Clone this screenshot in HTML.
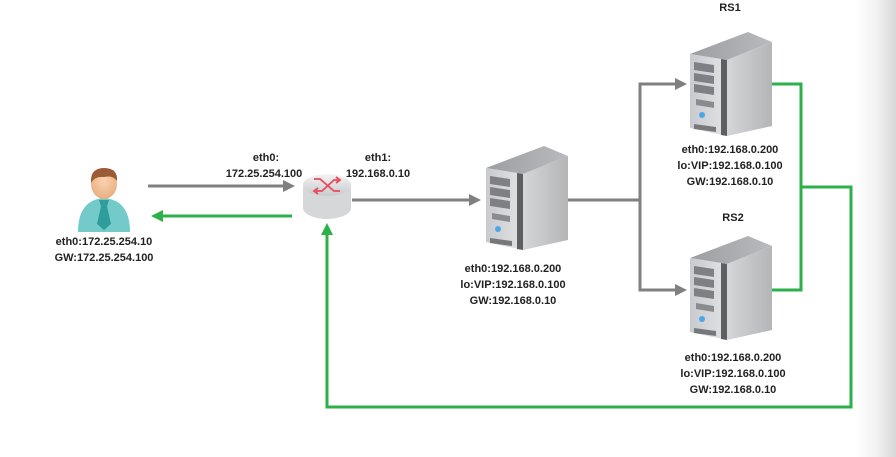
<!DOCTYPE html>
<html><head><meta charset="utf-8"><style>
html,body{margin:0;padding:0;background:#fff;}
body{width:896px;height:457px;overflow:hidden;position:relative;}
.grad{position:absolute;left:855px;top:0;width:41px;height:457px;background:linear-gradient(to right,#fff,#f3f3f3 50%,#d8d8d8);}
svg{position:absolute;left:0;top:0;}
text{font-family:"Liberation Sans",sans-serif;font-weight:bold;font-size:11px;fill:#222;text-anchor:middle;}
</style></head><body>
<div class="grad"></div>
<svg width="896" height="457" viewBox="0 0 896 457">
<defs>
<linearGradient id="side" x1="0" x2="1"><stop offset="0" stop-color="#d5d6d8"/><stop offset="1" stop-color="#b4b5b8"/></linearGradient>
<linearGradient id="front" x1="0" x2="1"><stop offset="0" stop-color="#c9cacd"/><stop offset="1" stop-color="#e2e3e5"/></linearGradient>
<linearGradient id="top" x1="0" x2="1"><stop offset="0" stop-color="#9d9ea2"/><stop offset="1" stop-color="#b9babd"/></linearGradient>
<linearGradient id="rt" x1="0" x2="0" y1="0" y2="1"><stop offset="0" stop-color="#f4f4f5"/><stop offset="1" stop-color="#c8c9cc"/></linearGradient>
<radialGradient id="face" cx="0.5" cy="0.4" r="0.6"><stop offset="0" stop-color="#fbd3b0"/><stop offset="1" stop-color="#e9ae82"/></radialGradient>
<g id="srv">
<polygon points="0,22 58,0 82,10 37,28" fill="url(#top)"/>
<polygon points="37,28 82,10 82,94 37,104" fill="url(#side)"/>
<polygon points="0,22 37,28 37,104 0,96" fill="url(#front)"/>
<polygon points="31,27 37,28 37,104 31,103" fill="#5e5f63"/>
<polygon points="4,30 24,33 24,41 4,38" fill="#7f8084"/>
<polygon points="4,41 24,44 24,52 4,49" fill="#7f8084"/>
<polygon points="4,52 24,55 24,63 4,60" fill="#7f8084"/>
<polygon points="6,67 24,70 24,76 6,73" fill="#8a8b8f"/>
<circle cx="12" cy="83" r="3" fill="#4aa7e8"/>
<polygon points="4,92 26,95 26,100 4,97" fill="#77787c"/>
</g>
<marker id="ag" markerWidth="12" markerHeight="12" refX="8" refY="6" orient="auto" markerUnits="userSpaceOnUse"><path d="M0,0 L12,6 L0,12 z" fill="#808080"/></marker>
<marker id="agr" markerWidth="12" markerHeight="12" refX="8" refY="6" orient="auto" markerUnits="userSpaceOnUse"><path d="M0,0 L12,6 L0,12 z" fill="#2db04a"/></marker>
</defs>

<g stroke="#808080" stroke-width="3" fill="none">
<line x1="148" y1="186" x2="291" y2="186" marker-end="url(#ag)"/>
<line x1="352" y1="200" x2="477" y2="200" marker-end="url(#ag)"/>
<polyline points="567,200 640,200"/>
<polyline points="640,290 640,84 683,84" marker-end="url(#ag)"/>
<polyline points="640,200 640,290 683,290" marker-end="url(#ag)"/>
</g>
<g stroke="#2db04a" stroke-width="3" fill="none">
<line x1="292" y1="216" x2="155" y2="216" marker-end="url(#agr)"/>
<polyline points="772,84 801,84 801,290 772,290"/>
<polyline points="801,187 851,187 851,407 327,407 327,227" marker-end="url(#agr)"/>
</g>

<path d="M78,232 Q78,200 104,198 Q130,200 130,232 Z" fill="#72cbc9"/>
<polygon points="99,200 109,200 107,206 111,224 104,230 97,224 101,206" fill="#2f9e9a"/>
<ellipse cx="104" cy="184" rx="13" ry="15" fill="url(#face)"/>
<path d="M91,183 Q90,168 104,168 Q118,168 117,181 Q113,175 104,177 Q95,176 91,183 Z" fill="#9b5b34"/>

<path d="M303,185 L303,208 A24,11 0 0 0 351,208 L351,185 Z" fill="#d6d7d9"/>
<ellipse cx="327" cy="185" rx="24" ry="11" fill="url(#rt)"/>
<g stroke="#e94a5a" stroke-width="1.8" fill="none">
<polyline points="314,179 320,179 334,191 340,191"/>
<polyline points="316,191 322,191 334,180 339,180"/>
<polyline points="336,177 340,180 336,183"/>
<polyline points="318,188 314,191 318,194"/>
</g>

<use href="#srv" x="486" y="146"/>
<use href="#srv" x="690" y="32"/>
<use href="#srv" x="690" y="236"/>

<text x="104" y="245">eth0:172.25.254.10</text>
<text x="104" y="261">GW:172.25.254.100</text>
<text x="266" y="161">eth0:</text>
<text x="264" y="177">172.25.254.100</text>
<text x="378" y="161">eth1:</text>
<text x="378" y="177">192.168.0.10</text>
<text x="513" y="272">eth0:192.168.0.200</text>
<text x="513" y="288">lo:VIP:192.168.0.100</text>
<text x="513" y="304">GW:192.168.0.10</text>
<text x="730" y="11">RS1</text>
<text x="730" y="153">eth0:192.168.0.200</text>
<text x="730" y="169">lo:VIP:192.168.0.100</text>
<text x="730" y="185">GW:192.168.0.10</text>
<text x="733" y="221">RS2</text>
<text x="733" y="361">eth0:192.168.0.200</text>
<text x="733" y="377">lo:VIP:192.168.0.100</text>
<text x="733" y="393">GW:192.168.0.10</text>
</svg>
</body></html>
